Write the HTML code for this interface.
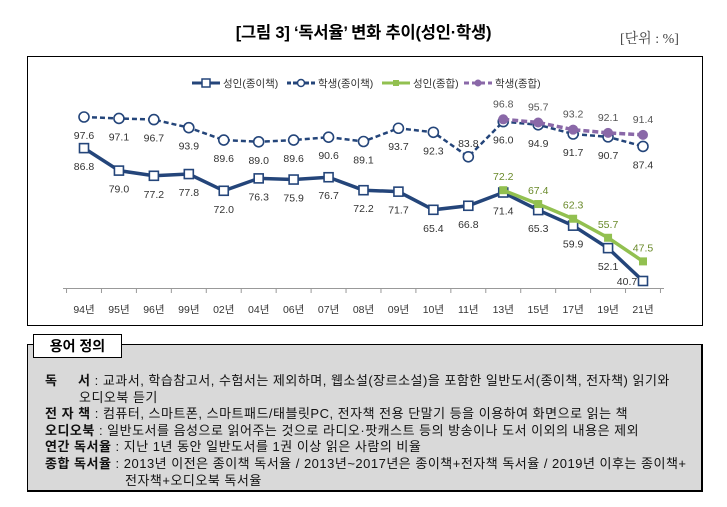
<!DOCTYPE html>
<html><head><meta charset="utf-8"><style>
body{margin:0;width:727px;height:507px;background:#fff;font-family:"Liberation Sans","Noto Sans CJK KR",sans-serif;overflow:hidden;position:relative}
.t{position:absolute}
</style></head><body>
<div class="t" style="left:0;width:727px;top:19px;text-align:center;font-size:16.5px;font-weight:bold;letter-spacing:-0.2px">[그림 3] ‘독서율’ 변화 추이(성인·학생)</div>
<div class="t" style="left:620px;top:28px;font-size:14px;color:#444;font-family:'Liberation Serif','Noto Serif CJK SC',serif">[단위 : %]</div>
<svg class="t" style="left:0;top:0" width="727" height="507">
<rect x="27.5" y="56.5" width="675" height="269" fill="#fff" stroke="#000" stroke-width="1"/>
<g id="plot"></g>
<g id="legend"></g>
</svg>
<div class="t" style="left:27px;top:344px;width:673px;height:145px;background:#d9d9d9;border:1px solid #000;border-width:1px 2px 2px 1px"></div>
<div class="t" style="left:33px;top:334px;width:87px;height:22px;background:#fff;border:1px solid #000;text-align:center;font-weight:bold;font-size:14px;line-height:22px">용어 정의</div>
<div class="t" style="left:45px;top:373px;font-size:13px;line-height:16.6px;letter-spacing:0.5px;color:#111;width:660px;white-space:nowrap">
<div><b>독&nbsp;&nbsp;&nbsp;&nbsp;&nbsp;서</b> : 교과서, 학습참고서, 수험서는 제외하며, 웹소설(장르소설)을 포함한 일반도서(종이책, 전자책) 읽기와</div>
<div style="padding-left:34px">오디오북 듣기</div>
<div><b>전 자 책</b> : 컴퓨터, 스마트폰, 스마트패드/태블릿PC, 전자책 전용 단말기 등을 이용하여 화면으로 읽는 책</div>
<div><b>오디오북</b> : 일반도서를 음성으로 읽어주는 것으로 라디오·팟캐스트 등의 방송이나 도서 이외의 내용은 제외</div>
<div><b>연간 독서율</b> : 지난 1년 동안 일반도서를 1권 이상 읽은 사람의 비율</div>
<div><b>종합 독서율</b> : 2013년 이전은 종이책 독서율 / 2013년~2017년은 종이책+전자책 독서율 / 2019년 이후는 종이책+</div>
<div style="padding-left:80px">전자책+오디오북 독서율</div>
</div>
<script>
const categories=["94년","95년","96년","99년","02년","04년","06년","07년","08년","09년","10년","11년","13년","15년","17년","19년","21년"];
const adultPaper=[86.8,79.0,77.2,77.8,72.0,76.3,75.9,76.7,72.2,71.7,65.4,66.8,71.4,65.3,59.9,52.1,40.7];
const studentPaper=[97.6,97.1,96.7,93.9,89.6,89.0,89.6,90.6,89.1,93.7,92.3,83.8,96.0,94.9,91.7,90.7,87.4];
const adultTotal=[null,null,null,null,null,null,null,null,null,null,null,null,72.2,67.4,62.3,55.7,47.5];
const studentTotal=[null,null,null,null,null,null,null,null,null,null,null,null,96.8,95.7,93.2,92.1,91.4];
const NS="http://www.w3.org/2000/svg";
const g=document.getElementById('plot');
const x0=84,x1=643;
function xs(i){return x0+i*(x1-x0)/(categories.length-1);}
function ys(v){return 117+(97.6-v)*2.882;}
function mk(t,a,p){const e=document.createElementNS(NS,t);for(const k in a)e.setAttribute(k,a[k]);(p||g).appendChild(e);return e;}
const ax=mk('line',{x1:63,x2:664,y1:288.5,y2:288.5,stroke:'#999'});


const step=(x1-x0)/(categories.length-1);
for(let i=0;i<=categories.length;i++){const tx=x0-step/2+i*step;const tk=mk('line',{x1:tx,x2:tx,y1:288.5,y2:293,stroke:'#999'});

}
categories.forEach((c,i)=>{const t=mk('text',{x:xs(i),y:313,'text-anchor':'middle','font-size':'10.5',fill:'#333'});t.textContent=c;

});
function series(data,color,dash,w,name,marker,labelDy,labelColor){
 let pts=[];data.forEach((v,i)=>{if(v!=null)pts.push([xs(i),ys(v),v,i]);});
 const pl=mk('polyline',{points:pts.map(p=>p[0]+','+p[1]).join(' '),fill:'none',stroke:color,'stroke-width':w,'stroke-dasharray':dash});
 
 
 pts.forEach((p,k)=>{let m;
  if(marker=='sq')m=mk('rect',{x:p[0]-4.5,y:p[1]-4.5,width:9,height:9,fill:'#fff',stroke:color,'stroke-width':1.6});
  else if(marker=='circ')m=mk('circle',{cx:p[0],cy:p[1],r:5,fill:'#fff',stroke:color,'stroke-width':1.6});
  else if(marker=='gsq')m=mk('rect',{x:p[0]-4,y:p[1]-4,width:8,height:8,fill:color});
  else m=mk('circle',{cx:p[0],cy:p[1],r:5,fill:color});
  
  
  let lx=p[0],ly=p[1]+labelDy;
  if(name=='adult-paper'&&k==pts.length-1){lx=p[0]-16;ly=p[1]+4;}
  if(name=='student-paper'&&p[3]==11){ly=p[1]-10;}
  const t=mk('text',{x:lx,y:ly,'text-anchor':'middle','font-size':'10.5',fill:labelColor});t.textContent=p[2].toFixed(1);
  
  });
}
series(studentPaper,'#24457a','5,3',2.5,'student-paper','circ',22,'#333');
series(adultPaper,'#24457a','',3.5,'adult-paper','sq',22,'#333');
series(adultTotal,'#92c050','',3.5,'adult-total','gsq',-10,'#6a8a2a');
series(studentTotal,'#8a68a8','6,3',3.5,'student-total','dot',-12,'#555');
const lg=document.getElementById('legend');
const items=[['성인(종이책)','#24457a','','sq',192],['학생(종이책)','#24457a','4,2','circ',287],['성인(종합)','#92c050','','gsq',382],['학생(종합)','#8a68a8','5,3','dot',464]];
items.forEach(it=>{const [lab,c,d,m,x]=it;const y=83;
 const l=mk('line',{x1:x,x2:x+28,y1:y,y2:y,stroke:c,'stroke-width':3,'stroke-dasharray':d},lg);
 
 
 let mm;if(m=='sq')mm=mk('rect',{x:x+10,y:y-4,width:8,height:8,fill:'#fff',stroke:c,'stroke-width':1.5},lg);
 else if(m=='circ')mm=mk('circle',{cx:x+14,cy:y,r:3.5,fill:'#fff',stroke:c,'stroke-width':1.5},lg);
 else if(m=='gsq')mm=mk('rect',{x:x+11,y:y-3,width:6,height:6,fill:c},lg);
 else mm=mk('circle',{cx:x+14,cy:y,r:3.5,fill:c},lg);
 
 
 const t=mk('text',{x:x+31,y:y+4,'font-size':'10.5',fill:'#333'},lg);t.textContent=lab;
 
 });
</script>
</body></html>
